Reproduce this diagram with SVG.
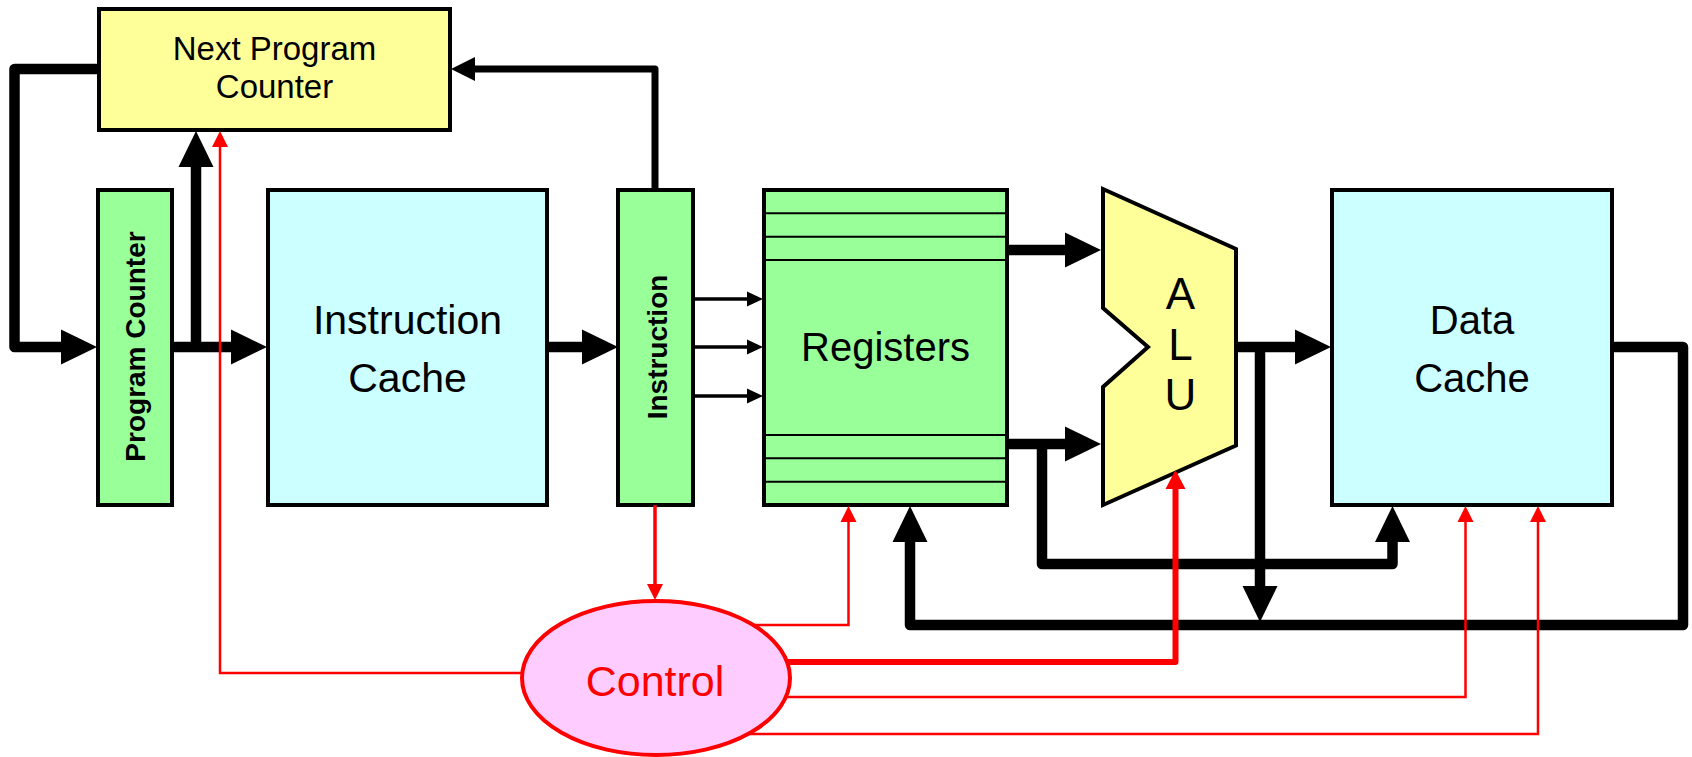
<svg xmlns="http://www.w3.org/2000/svg" width="1692" height="757" viewBox="0 0 1692 757">
<style>
.box{stroke:#000;stroke-width:4}
.yel{fill:#FFFF99}
.grn{fill:#99FF99}
.cyn{fill:#CCFFFF}
.t{font-family:"Liberation Sans",Arial,sans-serif;text-anchor:middle;fill:#000}
.vb{font-family:"Liberation Sans",Arial,sans-serif;font-weight:bold;font-size:28px;text-anchor:middle;fill:#000}
.rl{stroke:#000;stroke-width:2;fill:none}
.thick{stroke:#000;stroke-width:10.5;fill:none;stroke-linejoin:round}
.med{stroke:#000;stroke-width:7;fill:none;stroke-linejoin:round}
.thin{stroke:#000;stroke-width:3.5;fill:none}
.red{stroke:#FF0000;stroke-width:2.5;fill:none}
.redm{stroke:#FF0000;stroke-width:3.5;fill:none}
.redt{stroke:#FF0000;stroke-width:6;fill:none;stroke-linejoin:round}
</style>
<defs>
<marker id="aB" markerUnits="userSpaceOnUse" orient="auto" overflow="visible" refX="0" refY="0" markerWidth="40" markerHeight="40"><path d="M-1,-17.5 L35,0 L-1,17.5 z" fill="#000"/></marker>
<marker id="aM" markerUnits="userSpaceOnUse" orient="auto" overflow="visible" refX="0" refY="0" markerWidth="30" markerHeight="30"><path d="M-1,-12 L23,0 L-1,12 z" fill="#000"/></marker>
<marker id="aS" markerUnits="userSpaceOnUse" orient="auto" overflow="visible" refX="0" refY="0" markerWidth="20" markerHeight="20"><path d="M-1,-7.5 L15,0 L-1,7.5 z" fill="#000"/></marker>
<marker id="rS" markerUnits="userSpaceOnUse" orient="auto" overflow="visible" refX="0" refY="0" markerWidth="20" markerHeight="20"><path d="M-1,-8 L15,0 L-1,8 z" fill="#FF0000"/></marker>
<marker id="rM" markerUnits="userSpaceOnUse" orient="auto" overflow="visible" refX="0" refY="0" markerWidth="24" markerHeight="24"><path d="M-1,-10 L18,0 L-1,10 z" fill="#FF0000"/></marker>
</defs>
<rect width="1692" height="757" fill="#FFFFFF"/>

<g id="next-program-counter">
<rect class="box yel" x="99" y="9" width="351" height="121"/>
<text class="t" font-size="33" x="274.5" y="60">Next Program</text>
<text class="t" font-size="33" x="274.5" y="97.5">Counter</text>
</g>

<g id="program-counter">
<rect class="box grn" x="98" y="190" width="74" height="315"/>
<text class="vb" transform="translate(145,346.5) rotate(-90)">Program Counter</text>
</g>

<g id="instruction-cache">
<rect class="box cyn" x="268" y="190" width="279" height="315"/>
<text class="t" font-size="41" x="407.5" y="334.3">Instruction</text>
<text class="t" font-size="41" x="407.5" y="391.7">Cache</text>
</g>

<g id="instruction">
<rect class="box grn" x="618" y="190" width="75" height="315"/>
<text class="vb" transform="translate(667,347) rotate(-90)">Instruction</text>
</g>

<g id="registers">
<rect class="box grn" x="764" y="190" width="243" height="315"/>
<line class="rl" x1="764" y1="213.3" x2="1007" y2="213.3"/>
<line class="rl" x1="764" y1="236.7" x2="1007" y2="236.7"/>
<line class="rl" x1="764" y1="260" x2="1007" y2="260"/>
<line class="rl" x1="764" y1="435" x2="1007" y2="435"/>
<line class="rl" x1="764" y1="458.3" x2="1007" y2="458.3"/>
<line class="rl" x1="764" y1="481.7" x2="1007" y2="481.7"/>
<text class="t" font-size="40" x="885.5" y="360.7">Registers</text>
</g>

<g id="alu">
<polygon class="box yel" points="1103,189 1236,249 1236,445.5 1103,505 1103,387 1148,347 1103,308"/>
<text class="t" font-size="44" x="1180.5" y="308.5">A</text>
<text class="t" font-size="44" x="1180.5" y="359.5">L</text>
<text class="t" font-size="44" x="1180.5" y="410">U</text>
</g>

<g id="data-cache">
<rect class="box cyn" x="1332" y="190" width="280" height="315"/>
<text class="t" font-size="40" x="1472" y="334.3">Data</text>
<text class="t" font-size="40" x="1472" y="391.7">Cache</text>
</g>

<g id="control">
<ellipse cx="656" cy="678" rx="134" ry="77" fill="#FFCCFF" stroke="#FF0000" stroke-width="4"/>
<text class="t" font-size="43" x="655" y="695.7" fill="#FF0000" style="fill:#FF0000">Control</text>
</g>

<g id="connectors">
<path class="thick" d="M99,69 H14.5 V347 H62" marker-end="url(#aB)"/>
<path class="thick" d="M172,347 H232" marker-end="url(#aB)"/>
<path class="thick" d="M196,347 V166" marker-end="url(#aB)"/>
<path class="thick" d="M547,347 H583" marker-end="url(#aB)"/>
<path class="med" d="M655,190 V69 H474" marker-end="url(#aM)"/>
<path class="thin" d="M693,299 H748" marker-end="url(#aS)"/>
<path class="thin" d="M693,347 H748" marker-end="url(#aS)"/>
<path class="thin" d="M693,396 H748" marker-end="url(#aS)"/>
<path class="thick" d="M1007,250 H1066" marker-end="url(#aB)"/>
<path class="thick" d="M1007,444 H1066" marker-end="url(#aB)"/>
<path class="thick" d="M1042,444 V564 H1392.5 V541" marker-end="url(#aB)"/>
<path class="thick" d="M1236,347 H1296" marker-end="url(#aB)"/>
<path class="thick" d="M1260,347 V587" marker-end="url(#aB)"/>
<path class="thick" d="M1612,347 H1683 V625 H910 V541" marker-end="url(#aB)"/>
<path class="red" d="M522,673 H220 V146" marker-end="url(#rS)"/>
<path class="redm" d="M655,505 V585" marker-end="url(#rS)"/>
<path class="red" d="M753,625 H848.5 V521" marker-end="url(#rS)"/>
<path class="redt" d="M787,662 H1175.5 V488" marker-end="url(#rM)"/>
<path class="red" d="M786,697 H1465.5 V521" marker-end="url(#rS)"/>
<path class="red" d="M748,734 H1538 V521" marker-end="url(#rS)"/>
</g>
</svg>
